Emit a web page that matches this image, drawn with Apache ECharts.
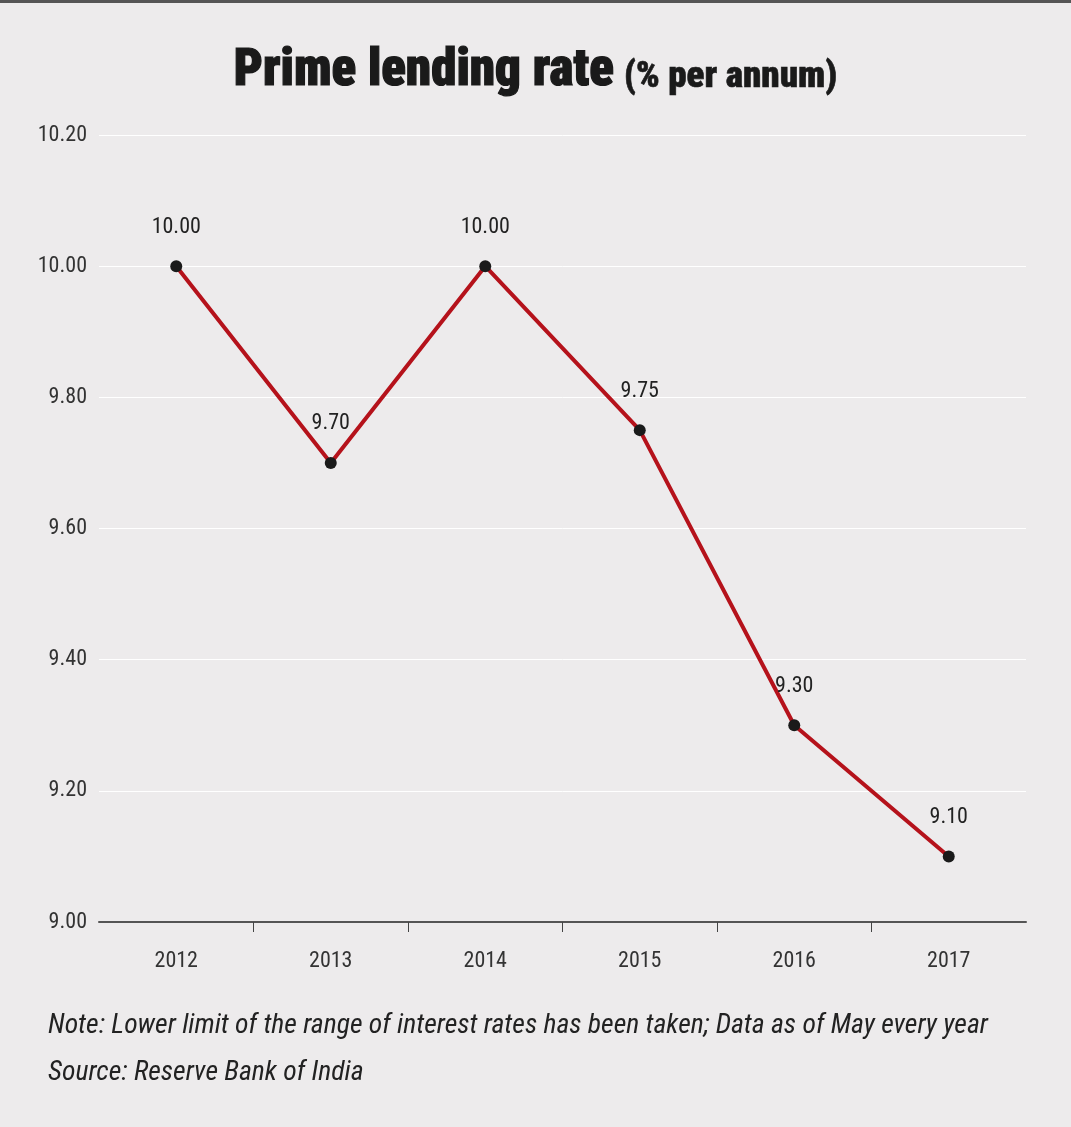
<!DOCTYPE html>
<html><head><meta charset="utf-8">
<script src="https://cdn.jsdelivr.net/npm/echarts@6/dist/echarts.min.js"></script>
<style>html,body{margin:0;padding:0;background:#edebec;}#c{width:1071px;height:1127px;}</style>
</head><body><div id="c"></div>
<script>
const years = ['2012','2013','2014','2015','2016','2017'];
const rates = [10.00, 9.70, 10.00, 9.75, 9.30, 9.10];
const yMin = 9.0, yMax = 10.2, yStep = 0.2;
const titleMain = 'Prime lending rate';
const titleSub = '(% per annum)';
const note = 'Note: Lower limit of the range of interest rates has been taken; Data as of May every year';
const source = 'Source: Reserve Bank of India';

const F = '"Liberation Sans Narrow", "Arial Narrow", "Roboto Condensed", sans-serif';
const boundaries = years.concat(['end']); // one boundary per category edge
const chart = echarts.init(document.getElementById('c'));
chart.setOption({
  backgroundColor: '#edebec',
  animation: false,
  graphic: [
    {type:'rect', shape:{x:0,y:0,width:1071,height:3}, style:{fill:'#555'}},
    {type:'text', left:48, top:1012, style:{text:note, font:'italic 27.7px '+F, fill:'#222'}},
    {type:'text', left:48, top:1059, style:{text:source, font:'italic 27.7px '+F, fill:'#222'}}
  ],
  title: {
    text: '{a|' + titleMain + '}  {b|' + titleSub + '}',
    left: 'center', top: 42,
    textStyle: {
      rich: {
        a: {fontFamily: F, fontWeight: 900, fontSize: 51, color: '#1a1a1a', textBorderColor:'#1a1a1a', textBorderWidth:1.2},
        b: {fontFamily: F, fontWeight: 900, fontSize: 37, color: '#1a1a1a', textBorderColor:'#1a1a1a', textBorderWidth:0.6, padding:[10,0,0,0]}
      }
    }
  },
  grid: {left: 99, right: 45, top: 135, bottom: 205, containLabel: false},
  xAxis: [{
    type: 'category', data: years, boundaryGap: true,
    axisLine: {lineStyle: {color: '#555', width: 2}},
    axisTick: {show: false},
    axisLabel: {color: '#333', fontFamily: F, fontSize: 22, margin: 28}
  }, {
    type: 'category', data: boundaries, boundaryGap: false, position: 'bottom',
    axisLine: {show: false},
    axisLabel: {show: false},
    axisTick: {show: true, length: 10, lineStyle: {color: '#444', width: 1}, interval: (i) => i > 0 && i < years.length},
    splitLine: {show: false}
  }],
  yAxis: {
    type: 'value', min: yMin, max: yMax, interval: yStep,
    axisLine: {show: false}, axisTick: {show: false},
    splitLine: {lineStyle: {color: '#ffffff', width: 1}},
    axisLabel: {color: '#333', fontFamily: F, fontSize: 22, margin: 12, formatter: v => v.toFixed(2)}
  },
  series: [{
    type: 'line', data: rates, xAxisIndex: 0,
    lineStyle: {color: '#b5121b', width: 4},
    itemStyle: {color: '#1a1a1a'},
    symbol: 'circle', symbolSize: 12, showAllSymbol: true,
    label: {show: true, position: 'top', distance: 22, color: '#222', fontFamily: F, fontSize: 22, formatter: p => p.value.toFixed(2)}
  }]
});
</script></body></html>
